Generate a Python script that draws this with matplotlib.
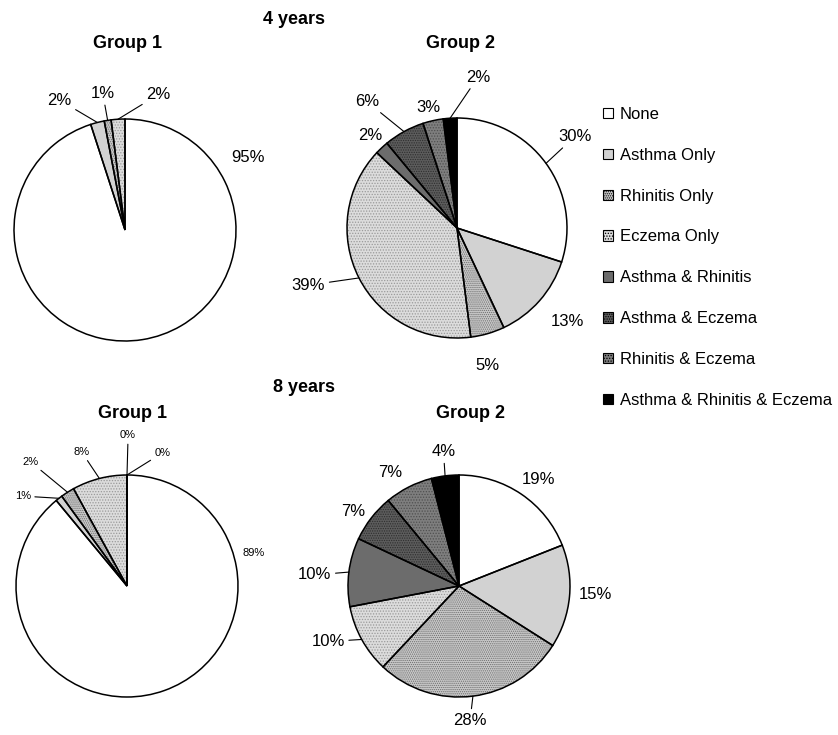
import numpy as np
import matplotlib.pyplot as plt
from matplotlib.patches import Patch

plt.rcParams['font.family'] = ['Liberation Sans', 'DejaVu Sans']
plt.rcParams['hatch.linewidth'] = 0.6

categories = ['None', 'Asthma Only', 'Rhinitis Only', 'Eczema Only',
              'Asthma & Rhinitis', 'Asthma & Eczema', 'Rhinitis & Eczema',
              'Asthma & Rhinitis & Eczema']

# percentages, same category order as above
group1_4y = [95, 2, 1, 2]
group2_4y = [30, 13, 5, 39, 2, 6, 3, 2]
group1_8y = [89, 1, 2, 8, 0, 0]
group2_8y = [19, 15, 28, 10, 10, 7, 7, 4]

# fill styles per category
fills = ['white', '#d2d2d2', '#c8c8c8', '#dcdcdc', '#6c6c6c', '#5c5c5c', '#7e7e7e', 'black']
hatches = [None, None, '........', '......', None, '.......', '......', None]
dot_colors = ['white', '#d2d2d2', '#6e6e6e', '#9a9a9a', '#6c6c6c', '#2e2e2e', '#505050', 'black']

W, H = 838, 735
fig = plt.figure(figsize=(W / 100, H / 100), dpi=100)


def px_axes(cx, cy, r, pad=1.06):
    half = r * pad
    ax = fig.add_axes([(cx - half) / W, 1 - (cy + half) / H, 2 * half / W, 2 * half / H])
    return ax


def draw_pie(cx, cy, r, values, label_pos, leaders, fontsize):
    ax = px_axes(cx, cy, r)
    n = len(values)
    wedges, _ = ax.pie(values, startangle=90, counterclock=False, radius=1,
                       colors=fills[:n], wedgeprops=dict(linewidth=0))
    for w, h, dc in zip(wedges, hatches, dot_colors):
        w.set_edgecolor(dc)
        if h:
            w.set_hatch(h)
    ax.pie(values, startangle=90, counterclock=False, radius=1,
           colors=['none'] * n, wedgeprops=dict(linewidth=1.1, edgecolor='black'))

    for w, v, (lx, ly), lead in zip(wedges, values, label_pos, leaders):
        mid = np.deg2rad((w.theta1 + w.theta2) / 2)
        if lead:
            ax.annotate(f'{v}%', xy=(np.cos(mid), np.sin(mid)), xytext=(lx, ly),
                        ha='center', va='center', fontsize=fontsize,
                        arrowprops=dict(arrowstyle='-', lw=0.8, color='black',
                                        shrinkA=1, shrinkB=0),
                        annotation_clip=False)
        else:
            ax.text(lx, ly, f'{v}%', ha='center', va='center', fontsize=fontsize)

    ax.set_xlim(-1.06, 1.06)
    ax.set_ylim(-1.06, 1.06)
    ax.axis('off')
    return ax


# 4 years
draw_pie(125, 230, 111, group1_4y,
         [(1.11, 0.65), (-0.59, 1.17), (-0.20, 1.23), (0.30, 1.22)],
         [False, True, True, True], 12)
draw_pie(457, 228, 110, group2_4y,
         [(1.07, 0.83), (1.0, -0.85), (0.28, -1.25), (-1.35, -0.52),
          (-0.79, 0.84), (-0.82, 1.15), (-0.26, 1.10), (0.19, 1.37)],
         [True, False, False, True, False, True, False, True], 12)

# 8 years
draw_pie(127, 586, 111, group1_8y,
         [(1.14, 0.30), (-0.94, 0.81), (-0.87, 1.12), (-0.41, 1.21),
          (0.01, 1.36), (0.32, 1.20)],
         [False, True, True, True, True, True], 8)
draw_pie(459, 586, 111, group2_8y,
         [(0.72, 0.96), (1.23, -0.08), (0.10, -1.21), (-1.18, -0.50),
          (-1.30, 0.10), (-0.95, 0.67), (-0.62, 1.02), (-0.14, 1.21)],
         [False, False, True, True, True, False, False, True], 12)

for x, y, s in [(294, 20, '4 years'), (127, 43, 'Group 1'), (460, 43, 'Group 2'),
                (304, 388, '8 years'), (132, 413, 'Group 1'), (470, 413, 'Group 2')]:
    fig.text(x / W, 1 - y / H, s, ha='center', va='center', fontsize=13, fontweight='bold')

handles = [Patch(facecolor=f, hatch=h, edgecolor='black', linewidth=0.8, label=c)
           for f, h, c in zip(fills, hatches, categories)]
fig.legend(handles=handles, loc='upper left', bbox_to_anchor=(603 / W, 1 - 107 / H),
           frameon=False, fontsize=12, handlelength=0.6, handleheight=0.6,
           handletextpad=0.4, labelspacing=1.55, borderpad=0, borderaxespad=0)

fig.savefig('out.png', dpi=100)
